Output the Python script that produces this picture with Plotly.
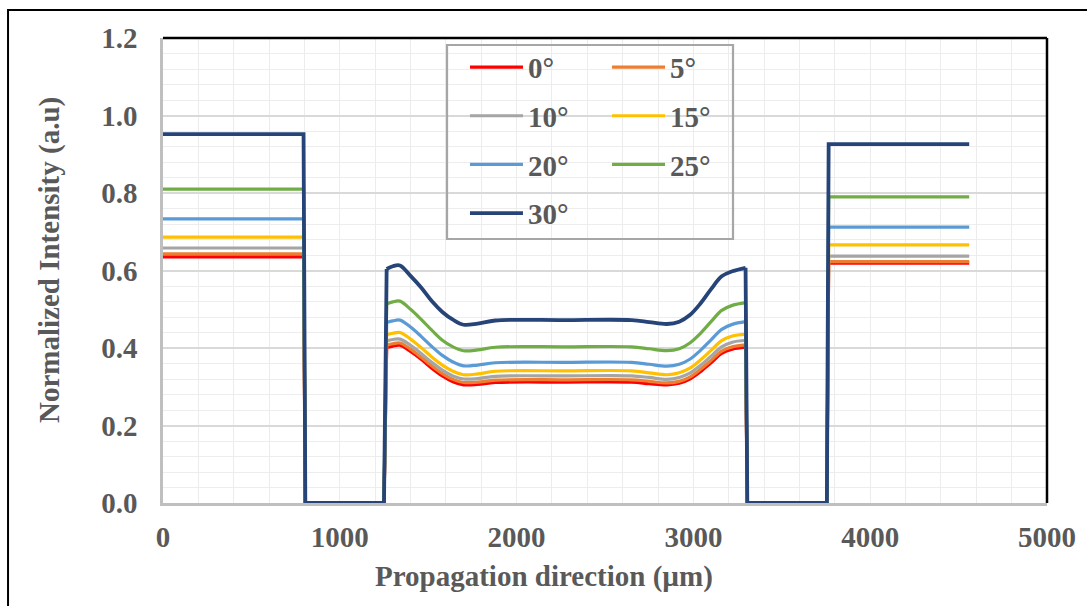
import plotly.graph_objects as go

# ---------------- data ----------------
x_um = [0, 795, 805, 1250,
        1265, 1300, 1340, 1400, 1460, 1520, 1580, 1640, 1700, 1780, 1880,
        2270, 2650, 2750, 2850, 2920, 2980, 3040, 3100, 3160, 3220, 3295,
        3305, 3755, 3765, 4560]

angles = ["0°", "5°", "10°", "15°", "20°", "25°", "30°"]

y_0 = [0.635, 0.635, 0, 0,
       0.401, 0.405, 0.407, 0.391, 0.371, 0.348, 0.328, 0.313, 0.305, 0.306, 0.311,
       0.312, 0.312, 0.308, 0.305, 0.309, 0.320, 0.339, 0.362, 0.386, 0.397, 0.402,
       0, 0, 0.619, 0.619]
y_5 = [0.643, 0.643, 0, 0,
       0.407, 0.411, 0.413, 0.397, 0.376, 0.354, 0.334, 0.319, 0.311, 0.312, 0.317,
       0.318, 0.318, 0.314, 0.310, 0.314, 0.325, 0.345, 0.368, 0.392, 0.403, 0.408,
       0, 0, 0.623, 0.623]
y_10 = [0.658, 0.658, 0, 0,
        0.418, 0.422, 0.423, 0.407, 0.386, 0.363, 0.343, 0.328, 0.320, 0.321, 0.327,
        0.328, 0.328, 0.324, 0.319, 0.324, 0.335, 0.355, 0.379, 0.403, 0.415, 0.420,
        0, 0, 0.637, 0.637]
y_15 = [0.686, 0.686, 0, 0,
        0.434, 0.438, 0.440, 0.423, 0.401, 0.377, 0.356, 0.340, 0.331, 0.333, 0.340,
        0.341, 0.341, 0.336, 0.331, 0.336, 0.348, 0.369, 0.394, 0.419, 0.431, 0.436,
        0, 0, 0.666, 0.666]
y_20 = [0.733, 0.733, 0, 0,
        0.466, 0.470, 0.472, 0.454, 0.430, 0.404, 0.381, 0.364, 0.354, 0.356, 0.362,
        0.363, 0.363, 0.358, 0.353, 0.358, 0.371, 0.394, 0.421, 0.448, 0.461, 0.468,
        0, 0, 0.712, 0.712]
y_25 = [0.810, 0.810, 0, 0,
        0.514, 0.519, 0.521, 0.500, 0.474, 0.446, 0.420, 0.403, 0.393, 0.395, 0.402,
        0.403, 0.403, 0.398, 0.393, 0.398, 0.413, 0.438, 0.468, 0.497, 0.510, 0.517,
        0, 0, 0.790, 0.790]
y_30 = [0.952, 0.952, 0, 0,
        0.604, 0.611, 0.613, 0.586, 0.556, 0.521, 0.493, 0.473, 0.460, 0.463, 0.471,
        0.472, 0.472, 0.467, 0.462, 0.468, 0.485, 0.515, 0.552, 0.585, 0.598, 0.607,
        0, 0, 0.926, 0.926]

series = [y_0, y_5, y_10, y_15, y_20, y_25, y_30]
colors = ["#FF0000", "#ED7D31", "#A5A5A5", "#FFC000", "#5B9BD5", "#70AD47", "#264478"]
widths = [3.2, 3.2, 3.2, 3.2, 3.2, 3.2, 3.8]
legend_ref = ["legend", "legend2", "legend", "legend2", "legend", "legend2", "legend"]

x_ticks = [0, 1000, 2000, 3000, 4000, 5000]
y_ticks = [0.0, 0.2, 0.4, 0.6, 0.8, 1.0, 1.2]

# index ranges: stepped parts are straight, the guided middle part is smooth
MID_START, MID_END = 4, 25

FONT = "Liberation Serif"
GREY = "#595959"

fig = go.Figure()
for name, ys, c, w, lg in zip(angles, series, colors, widths, legend_ref):
    # straight stepped sections (with a gap over the smooth middle)
    xs_step = x_um[:MID_START + 1] + [None] + x_um[MID_END:]
    ys_step = ys[:MID_START + 1] + [None] + ys[MID_END:]
    fig.add_trace(go.Scatter(
        x=xs_step, y=ys_step, mode="lines", name=name,
        line=dict(color=c, width=w), connectgaps=False,
        legend=lg, legendgroup=name, showlegend=True,
    ))
    # smooth middle section
    fig.add_trace(go.Scatter(
        x=x_um[MID_START:MID_END + 1], y=ys[MID_START:MID_END + 1], mode="lines",
        name=name, line=dict(color=c, width=w, shape="spline", smoothing=1.0),
        legend=lg, legendgroup=name, showlegend=False,
    ))

legend_common = dict(
    font=dict(family=FONT, size=29, color=GREY, weight="bold"),
    bgcolor="rgba(0,0,0,0)", borderwidth=0,
    itemwidth=53, tracegroupgap=8,
    xanchor="left", yanchor="top",
    orientation="v",
)

fig.update_layout(
    width=1087, height=606,
    margin=dict(l=163, r=40, t=38, b=103),
    paper_bgcolor="white", plot_bgcolor="white",
    font=dict(family=FONT, color=GREY, weight="bold"),
    showlegend=True,
    legend=dict(x=0.3416, y=0.992, **legend_common),
    legend2=dict(x=0.5023, y=0.992, **legend_common),
    xaxis=dict(
        range=[0, 5000], tickvals=x_ticks, ticktext=[str(v) for v in x_ticks],
        tickfont=dict(family=FONT, size=29, color=GREY, weight="bold"),
        showgrid=True, gridcolor="#ECECEC", gridwidth=1,
        minor=dict(dtick=200, showgrid=True, gridcolor="#ECECEC", gridwidth=1),
        showline=True, linecolor="#BFBFBF", linewidth=2.5,
        zeroline=False, ticks="", ticklabelstandoff=6,
    ),
    yaxis=dict(
        range=[0, 1.2], tickvals=y_ticks, ticktext=[f"{v:.1f}" for v in y_ticks],
        tickfont=dict(family=FONT, size=29, color=GREY, weight="bold"),
        showgrid=True, gridcolor="#D9D9D9", gridwidth=1.5,
        minor=dict(dtick=0.04, showgrid=True, gridcolor="#EDEDED", gridwidth=1),
        showline=True, linecolor="#BFBFBF", linewidth=2.5,
        zeroline=False, ticks="", ticklabelstandoff=17,
    ),
    shapes=[
        # plot-area border (top and right, black)
        dict(type="line", xref="paper", yref="paper", x0=0, x1=1, y0=1, y1=1,
             line=dict(color="black", width=2.5), layer="above"),
        dict(type="line", xref="paper", yref="paper", x0=1, x1=1, y0=0, y1=1,
             line=dict(color="black", width=2.5), layer="above"),
        # legend box fill
        dict(type="rect", xref="paper", yref="paper",
             x0=0.3213, x1=0.6448, y0=0.5677, y1=0.985,
             fillcolor="white", line=dict(width=0), layer="between"),
        # legend box border
        dict(type="rect", xref="paper", yref="paper",
             x0=0.3213, x1=0.6448, y0=0.5677, y1=0.985,
             fillcolor="rgba(0,0,0,0)", line=dict(color="#A6A6A6", width=2.2), layer="above"),
        # outer chart frame
        dict(type="rect", xref="paper", yref="paper",
             x0=-0.1753, x1=1.06, y0=-0.25, y1=1.0602,
             line=dict(color="black", width=2), fillcolor="rgba(0,0,0,0)", layer="above"),
    ],
    annotations=[
        dict(text="Propagation direction (µm)", xref="paper", yref="paper",
             x=0.431, y=-0.159, xanchor="center", yanchor="middle", showarrow=False,
             font=dict(family=FONT, size=29, color=GREY, weight="bold")),
        dict(text="Normalized Intensity (a.u)", xref="paper", yref="paper",
             x=-0.1278, y=0.5226, xanchor="center", yanchor="middle", showarrow=False,
             textangle=-90,
             font=dict(family=FONT, size=29, color=GREY, weight="bold")),
    ],
)

fig.write_html("out.html")
